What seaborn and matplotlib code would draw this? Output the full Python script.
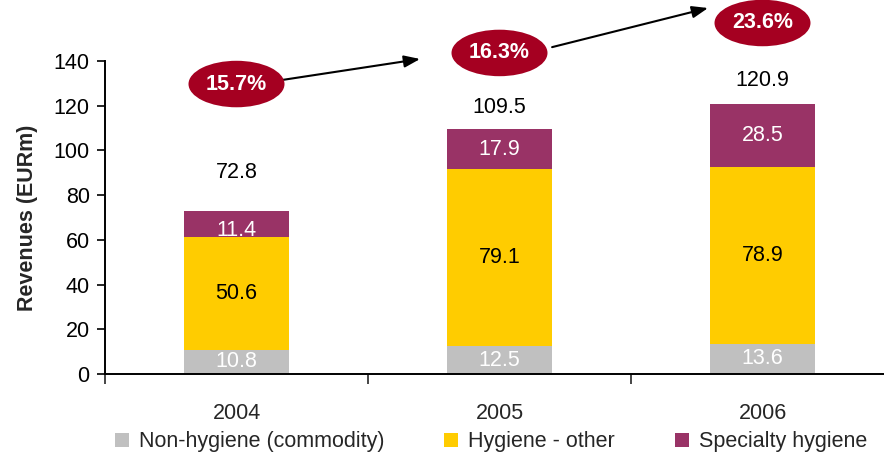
import matplotlib
matplotlib.use("Agg")
import matplotlib.pyplot as plt
from matplotlib.patches import Ellipse, Patch
from matplotlib.ticker import FixedLocator
import seaborn as sns
import numpy as np

# Revenue breakdown by year (EURm)
years = ["2004", "2005", "2006"]
non_hygiene = [10.8, 12.5, 13.6]
hygiene_other = [50.6, 79.1, 78.9]
specialty = [11.4, 17.9, 28.5]
totals = [72.8, 109.5, 120.9]
series_names = ["Non-hygiene (commodity)", "Hygiene - other", "Specialty hygiene"]

# Styling / layout
GREY = "#C0C0C0"
YELLOW = "#FFCC00"
PURPLE = "#993366"
RED = "#A50021"
total_label_gap = [17.5, 9.5, 10.6]
specialty_label_shift = [-3.0, 0.0, 0.0]
bubble_y = [129.7, 143.6, 157.0]

sns.set_theme(style="white")
plt.rcParams["font.family"] = ["Liberation Sans", "DejaVu Sans"]
FS = 15.5

fig = plt.figure(figsize=(8.84, 4.57), dpi=100)
ax = fig.add_axes([105 / 884, 1 - 374 / 457, 779 / 884, 313 / 457])

low = np.array(non_hygiene)
mid = low + np.array(hygiene_other)
top = np.array(totals)

# Overlapping bars give the stacked look: total, then lower two, then lowest
sns.barplot(x=years, y=top, color=PURPLE, saturation=1, width=0.4, ax=ax,
            zorder=1, linewidth=0)
# specialty labels sit under the yellow segment so it can overlap them
for i, v in enumerate(specialty):
    ax.text(i, (mid[i] + top[i]) / 2 + specialty_label_shift[i], f"{v:.1f}",
            ha="center", va="center", color="white", fontsize=FS, zorder=1.5)
sns.barplot(x=years, y=mid, color=YELLOW, saturation=1, width=0.4, ax=ax,
            zorder=2, linewidth=0)
sns.barplot(x=years, y=low, color=GREY, saturation=1, width=0.4, ax=ax,
            zorder=3, linewidth=0)

for i in range(len(years)):
    ax.text(i, (low[i] + mid[i]) / 2, f"{hygiene_other[i]:.1f}", ha="center",
            va="center", color="black", fontsize=FS, zorder=4)
    ax.text(i, low[i] / 2, f"{non_hygiene[i]:.1f}", ha="center",
            va="center", color="white", fontsize=FS, zorder=4)
    ax.text(i, totals[i] + total_label_gap[i], f"{totals[i]:.1f}", ha="center",
            va="center", color="black", fontsize=FS, zorder=4)

# Specialty share bubbles
shares = 100 * np.array(specialty) / np.array(totals)
for i, s in enumerate(shares):
    e = Ellipse((i, bubble_y[i]), width=0.365, height=20.8, facecolor=RED,
                edgecolor="none", clip_on=False, zorder=5)
    ax.add_patch(e)
    ax.text(i, bubble_y[i], f"{s:.1f}%", ha="center", va="center",
            color="white", fontsize=FS, fontweight="bold", zorder=6,
            clip_on=False)

arrows = [((0.173, 131.5), (0.698, 140.9)), ((1.2, 146.2), (1.793, 163.7))]
for (x0, y0), (x1, y1) in arrows:
    ax.annotate("", xy=(x1, y1), xytext=(x0, y0), annotation_clip=False,
                arrowprops=dict(arrowstyle="-|>,head_length=0.8,head_width=0.3",
                                color="black", lw=1.5, shrinkA=0, shrinkB=0))

ax.set_xlim(-0.5, 779 / 263 - 0.5)
ax.set_ylim(0, 140)
ax.set_yticks(np.arange(0, 141, 20))
ax.tick_params(axis="y", direction="out", length=6, width=1.2, pad=5,
               labelsize=FS, colors="black", left=True)
ax.xaxis.set_minor_locator(FixedLocator([-0.5, 0.5, 1.5]))
ax.tick_params(axis="x", which="major", length=0, pad=21, labelsize=FS)
ax.tick_params(axis="x", which="minor", direction="out", length=7, width=1.2,
               bottom=True)
ax.set_xlabel("")
ax.set_ylabel("Revenues (EURm)", fontsize=FS, fontweight="bold", labelpad=11)
for side in ["top", "right"]:
    ax.spines[side].set_visible(False)
for side in ["left", "bottom"]:
    ax.spines[side].set_color("black")
    ax.spines[side].set_linewidth(1.4)
    ax.spines[side].set_zorder(7)

handles = [Patch(facecolor=c, edgecolor="none") for c in (GREY, YELLOW, PURPLE)]
fig.legend(handles, series_names, loc="center", bbox_to_anchor=(491 / 884, 1 - 442 / 457),
           ncol=3, frameon=False, fontsize=FS, handlelength=0.65, handleheight=0.65,
           handletextpad=0.45, columnspacing=2.8, borderpad=0, borderaxespad=0)

fig.savefig("out.png", dpi=100)
